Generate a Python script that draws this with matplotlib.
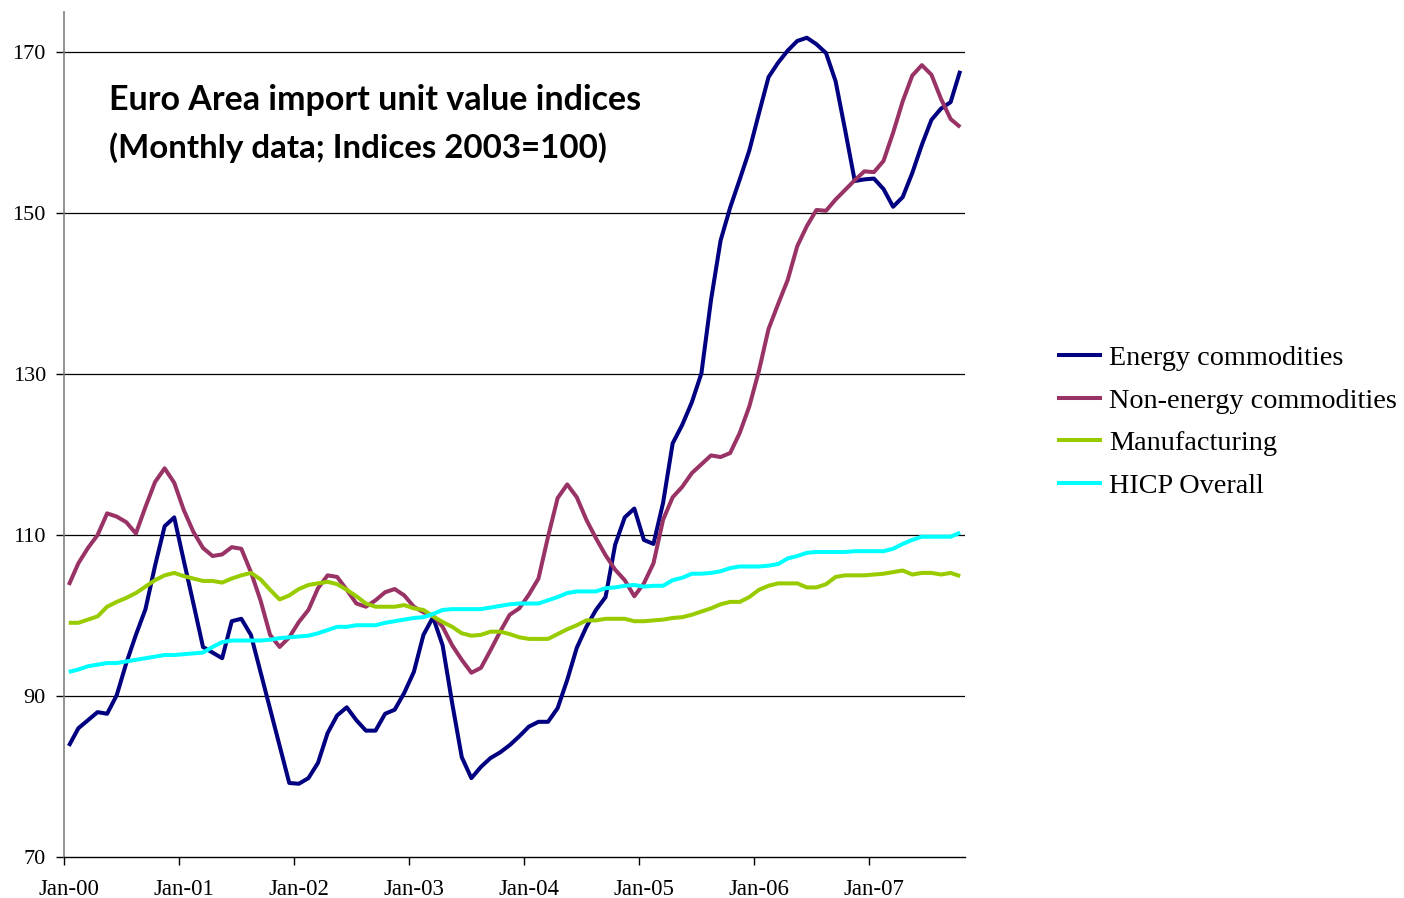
import matplotlib
matplotlib.use("Agg")
import matplotlib.pyplot as plt
import numpy as np

# ---- data (monthly, Jan-2000 .. Oct-2007) ----
energy = [83.8, 86.0, 87.0, 88.0, 87.8, 90.1, 94.1, 97.6, 100.8, 106.2,
          111.1, 112.2, 106.8, 101.5, 96.1, 95.4, 94.7, 99.3, 99.6, 97.6,
          93.0, 88.4, 83.8, 79.2, 79.1, 79.8, 81.7, 85.4, 87.6, 88.6,
          87.0, 85.7, 85.7, 87.8, 88.3, 90.4, 93.0, 97.6, 99.8, 96.3,
          89.1, 82.4, 79.8, 81.2, 82.3, 83.0, 83.9, 85.0, 86.2, 86.8,
          86.8, 88.5, 92.0, 96.0, 98.6, 100.7, 102.3, 108.8, 112.2, 113.3,
          109.4, 108.9, 114.0, 121.4, 123.7, 126.5, 130.1, 139.2, 146.6, 150.7,
          154.2, 157.8, 162.4, 166.9, 168.7, 170.2, 171.4, 171.8, 171.0, 169.9,
          166.4, 160.3, 154.0, 154.2, 154.3, 153.0, 150.8, 152.0, 155.0, 158.5,
          161.6, 163.0, 163.8, 167.7]
non_energy = [103.8, 106.5, 108.4, 110.0, 112.7, 112.3, 111.6, 110.2, 113.5, 116.6,
              118.3, 116.5, 113.1, 110.4, 108.4, 107.4, 107.6, 108.5, 108.3, 105.4,
              101.9, 97.6, 96.1, 97.3, 99.2, 100.7, 103.4, 105.0, 104.8, 103.2,
              101.5, 101.1, 101.9, 102.9, 103.3, 102.5, 101.1, 100.4, 100.0, 98.6,
              96.3, 94.5, 92.9, 93.5, 95.7, 98.0, 100.1, 100.9, 102.6, 104.6,
              109.8, 114.6, 116.3, 114.7, 111.9, 109.6, 107.5, 105.7, 104.4, 102.4,
              104.0, 106.5, 111.9, 114.7, 116.0, 117.7, 118.8, 119.9, 119.7, 120.2,
              122.7, 126.0, 130.4, 135.6, 138.7, 141.7, 145.9, 148.4, 150.4, 150.3,
              151.7, 152.9, 154.1, 155.2, 155.1, 156.5, 160.0, 163.9, 167.1, 168.4,
              167.2, 164.2, 161.7, 160.7]
manufacturing = [99.1, 99.1, 99.5, 99.9, 101.1, 101.7, 102.2, 102.8, 103.6, 104.4,
                 105.0, 105.3, 104.9, 104.6, 104.3, 104.3, 104.1, 104.6, 105.0, 105.3,
                 104.5, 103.2, 102.0, 102.5, 103.3, 103.8, 104.0, 104.2, 103.9, 103.2,
                 102.4, 101.5, 101.1, 101.1, 101.1, 101.3, 100.9, 100.7, 99.9, 99.2,
                 98.6, 97.8, 97.5, 97.6, 98.0, 98.0, 97.7, 97.3, 97.1, 97.1,
                 97.1, 97.7, 98.3, 98.8, 99.4, 99.4, 99.6, 99.6, 99.6, 99.3,
                 99.3, 99.4, 99.5, 99.7, 99.8, 100.1, 100.5, 100.9, 101.4, 101.7,
                 101.7, 102.3, 103.2, 103.7, 104.0, 104.0, 104.0, 103.5, 103.5, 103.9,
                 104.8, 105.0, 105.0, 105.0, 105.1, 105.2, 105.4, 105.6, 105.1, 105.3,
                 105.3, 105.1, 105.3, 104.9]
hicp = [93.0, 93.3, 93.7, 93.9, 94.1, 94.1, 94.3, 94.5, 94.7, 94.9,
        95.1, 95.1, 95.2, 95.3, 95.4, 96.1, 96.7, 96.9, 96.9, 96.9,
        96.9, 97.0, 97.2, 97.3, 97.4, 97.5, 97.8, 98.2, 98.6, 98.6,
        98.8, 98.8, 98.8, 99.1, 99.3, 99.5, 99.7, 99.8, 100.2, 100.7,
        100.8, 100.8, 100.8, 100.8, 101.0, 101.2, 101.4, 101.5, 101.5, 101.5,
        101.9, 102.3, 102.8, 103.0, 103.0, 103.0, 103.4, 103.5, 103.7, 103.8,
        103.6, 103.7, 103.7, 104.4, 104.7, 105.2, 105.2, 105.3, 105.5, 105.9,
        106.1, 106.1, 106.1, 106.2, 106.4, 107.1, 107.4, 107.8, 107.9, 107.9,
        107.9, 107.9, 108.0, 108.0, 108.0, 108.0, 108.3, 108.9, 109.4, 109.8,
        109.8, 109.8, 109.8, 110.3]

series_names = ["Energy commodities", "Non-energy commodities", "Manufacturing", "HICP Overall"]
series_colors = ["#000080", "#993366", "#99CC00", "#00FFFF"]
x_labels = ["Jan-00", "Jan-01", "Jan-02", "Jan-03", "Jan-04", "Jan-05", "Jan-06", "Jan-07"]
y_ticks = [70, 90, 110, 130, 150, 170]
title_lines = ["Euro Area import unit value indices", "(Monthly data; Indices 2003=100)"]

W, H = 1404, 898
fig = plt.figure(figsize=(W / 100, H / 100), dpi=100)
fig.patch.set_facecolor("white")

# axes placement in pixels
ax_left, ax_right, ax_top, ax_bottom = 64, 965, 12, 857
ax = fig.add_axes([ax_left / W, 1 - ax_bottom / H, (ax_right - ax_left) / W, (ax_bottom - ax_top) / H])

n = len(energy)
x = np.arange(n)
all_series = [energy, non_energy, manufacturing, hicp]
handles = []
for vals, col, name in zip(all_series, series_colors, series_names):
    h, = ax.plot(x, vals, color=col, lw=2.9, label=name, solid_joinstyle="round", solid_capstyle="butt")
    handles.append(h)

ax.set_xlim(-0.5, n - 0.5)
ax.set_ylim(70, 175)

serif = ["Liberation Serif", "DejaVu Serif"]
ax.set_yticks(y_ticks)
ax.set_yticklabels([str(v) for v in y_ticks], fontfamily=serif, fontsize=16)
ax.set_xticks(np.arange(0, n, 12) - 0.5)
ax.set_xticklabels([])
ax.set_xticks(np.arange(0, 12 * len(x_labels), 12), minor=True)
ax.set_xticklabels(x_labels, minor=True, fontfamily=serif, fontsize=16.5)
ax.tick_params(axis="x", which="major", direction="out", length=6, width=1, color="black")
ax.tick_params(axis="x", which="minor", length=0, pad=15.5)
ax.tick_params(axis="y", direction="out", length=6, width=1, pad=7)

for v in y_ticks[1:]:
    ax.axhline(v, color="black", lw=0.9, zorder=0.5)

for s in ["top", "right"]:
    ax.spines[s].set_visible(False)
ax.spines["left"].set_color("#808080")
ax.spines["left"].set_linewidth(1.2)
ax.spines["bottom"].set_color("black")
ax.spines["bottom"].set_linewidth(1.0)

# title text (inside plot)
fig.text(109 / W, 1 - 110 / H, title_lines[0], fontfamily="Lato", fontweight="bold",
         fontsize=24.5, ha="left", va="baseline")
fig.text(109 / W, 1 - 158 / H, title_lines[1], fontfamily="Lato", fontweight="bold",
         fontsize=23.8, ha="left", va="baseline")

leg = fig.legend(handles=handles, labels=series_names, loc="center left",
                 bbox_to_anchor=(1057 / W, 1 - 422 / H), frameon=False,
                 prop={"family": serif, "size": 20.3}, handlelength=1.6,
                 handletextpad=0.25, labelspacing=0.6, borderpad=0, borderaxespad=0)

fig.savefig("out.png", dpi=100, facecolor="white")
